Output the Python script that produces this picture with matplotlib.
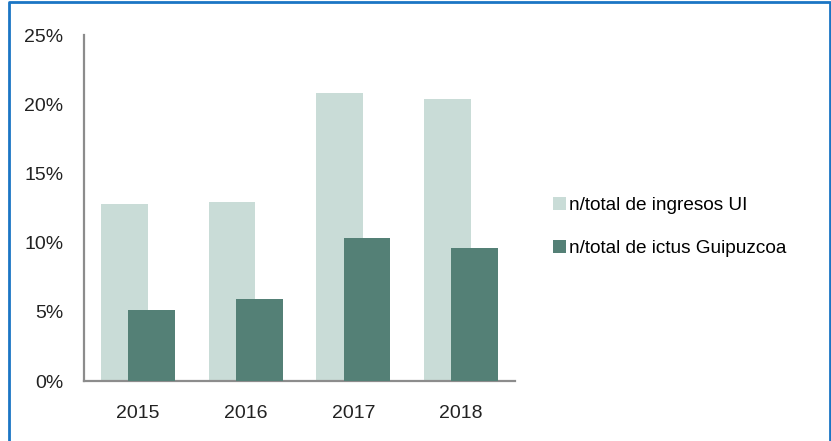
import numpy as np
import matplotlib.pyplot as plt
from matplotlib.lines import Line2D

plt.rcParams['font.family'] = ['Liberation Sans', 'DejaVu Sans']

years = ['2015', '2016', '2017', '2018']
ingresos_ui = [12.8, 12.9, 20.8, 20.4]
ictus_guipuzcoa = [5.1, 5.9, 10.3, 9.6]
series_names = ['n/total de ingresos UI', 'n/total de ictus Guipuzcoa']

color_light = '#C9DCD7'
color_dark = '#548076'
axis_color = '#8C8C8C'

fig = plt.figure(figsize=(8.31, 4.41), dpi=100)
ax = fig.add_axes([84 / 831, 1 - 381 / 441, 431 / 831, 346 / 441])

x = np.arange(len(years))
width = 0.435
off = 0.127
ax.bar(x - off, ingresos_ui, width, color=color_light, label=series_names[0], zorder=2)
ax.bar(x + off, ictus_guipuzcoa, width, color=color_dark, label=series_names[1], zorder=3)

ax.set_xlim(-0.5, len(years) - 0.5)
ax.set_ylim(0, 25)
ax.set_yticks(range(0, 26, 5))
ax.set_yticklabels([f'{v}%' for v in range(0, 26, 5)])
ax.set_xticks(x)
ax.set_xticklabels(years)
ax.tick_params(axis='both', length=0, labelsize=14, colors='#222222')
ax.tick_params(axis='y', pad=15)
ax.tick_params(axis='x', pad=17)

for s in ['top', 'right']:
    ax.spines[s].set_visible(False)
for s in ['left', 'bottom']:
    ax.spines[s].set_color(axis_color)
    ax.spines[s].set_linewidth(1.6)

ax.legend(loc='center left', bbox_to_anchor=(545 / 831, 1 - 227 / 441),
          bbox_transform=fig.transFigure, frameon=False, fontsize=13.7,
          handlelength=0.7, handleheight=0.7, handletextpad=0.15,
          labelspacing=1.35, borderaxespad=0)

# blue frame around the figure (no bottom edge visible)
W, H = 831, 441
bx = [8.5 / W, 8.5 / W, 829.5 / W, 829.5 / W]
by = [0, 1 - 1.5 / H, 1 - 1.5 / H, 0]
fig.add_artist(Line2D(bx, by, transform=fig.transFigure, color='#1B75C4', linewidth=2))

plt.savefig('out.png', dpi=100)
